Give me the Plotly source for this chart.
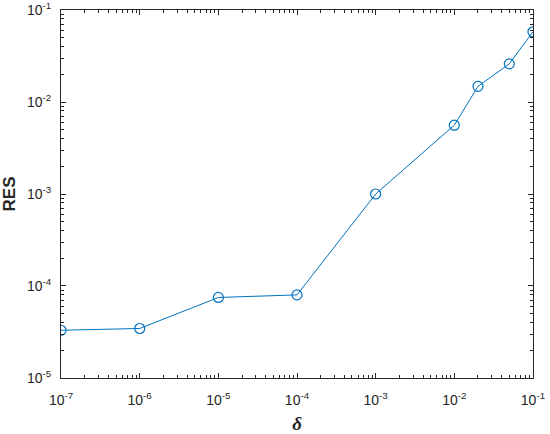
import plotly.graph_objects as go

delta = [1e-7, 1e-6, 1e-5, 1e-4, 1e-3, 1e-2, 2e-2, 5e-2, 1e-1]
res = [3.3e-5, 3.45e-5, 7.5e-5, 8.0e-5, 1.0e-3, 5.6e-3, 1.48e-2, 2.6e-2, 5.8e-2]

x_exps = [-7, -6, -5, -4, -3, -2, -1]
y_exps = [-5, -4, -3, -2, -1]

color = '#0072BD'
axis_font = dict(family='Liberation Sans, Arial', size=14, color='#262626')


def ticks_for(exps):
    vals = [10.0 ** e for e in exps]
    text = ['10<sup>%d</sup>' % e for e in exps]
    minor = [m * 10.0 ** e for e in exps[:-1] for m in range(2, 10)]
    return vals, text, minor


fig = go.Figure()
fig.add_trace(go.Scatter(
    x=delta, y=res, mode='lines+markers',
    line=dict(color=color, width=1),
    marker=dict(symbol='circle-open', size=10, color=color, line=dict(width=1.2, color=color)),
))

common = dict(
    type='log', showgrid=False, zeroline=False, automargin=False,
    showline=True, linecolor='#262626', linewidth=1, mirror='ticks',
    ticks='inside', ticklen=5, tickcolor='#262626',
    tickfont=axis_font, ticklabeloverflow='allow',
)

xv, xt, xm = ticks_for(x_exps)
yv, yt, ym = ticks_for(y_exps)

fig.update_xaxes(range=[-7.0005, -0.9995], tickvals=xv, ticktext=xt, ticklabelstandoff=9,
                 minor=dict(tickvals=xm, ticks='inside', ticklen=3, tickcolor='#262626', showgrid=False),
                 title=dict(text='<b><i>δ</i></b>', font=dict(family='Liberation Serif', size=19, color='#262626'), standoff=16),
                 **common)
fig.update_yaxes(range=[-5.0005, -0.9995], tickvals=yv, ticktext=yt, ticklabelstandoff=6,
                 minor=dict(tickvals=ym, ticks='inside', ticklen=3, tickcolor='#262626', showgrid=False),
                 title=dict(text='<b>RES</b>', font=dict(family='Liberation Sans, Arial', size=17, color='#262626'), standoff=10),
                 **common)

fig.update_layout(
    width=550, height=434,
    margin=dict(l=61, r=17, t=10, b=56),
    plot_bgcolor='white', paper_bgcolor='white',
    showlegend=False,
)

# la page a une marge de 8px par défaut, on la retire
fig.write_html("out.html", config={'displayModeBar': False},
               post_script="document.body.style.margin='0';")
